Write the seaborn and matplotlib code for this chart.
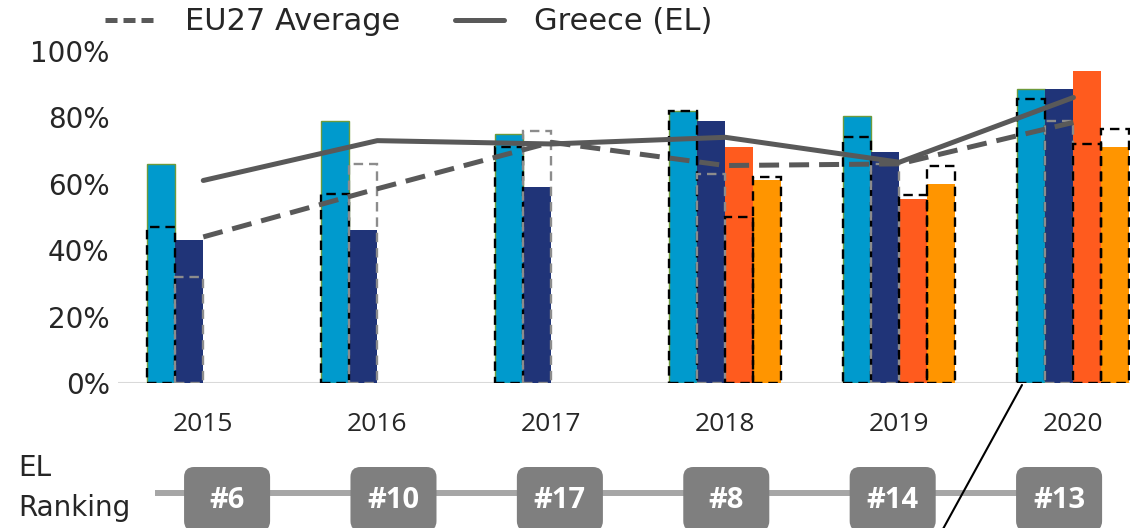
import numpy as np
import pandas as pd
import matplotlib
matplotlib.use("Agg")
import matplotlib.pyplot as plt
from matplotlib.lines import Line2D
from matplotlib.patches import FancyBboxPatch
import seaborn as sns

# data
years = ["2015", "2016", "2017", "2018", "2019", "2020"]
series = ["Indicator 1", "Indicator 2", "Indicator 3", "Indicator 4"]
nan = np.nan

el_1 = [66, 79, 75, 82, 80.5, 88.5]
el_2 = [43, 46, 59, 79, 69.5, 88.5]
el_3 = [nan, nan, nan, 71, 55.5, 94]
el_4 = [nan, nan, nan, 61, 60, 71]

eu_1 = [47, 57, 71, 82, 74, 85.5]
eu_2 = [32, 66, 76, 63, 66, 79]
eu_3 = [nan, nan, nan, 50, 56.5, 72]
eu_4 = [nan, nan, nan, 62, 65.5, 76.5]

eu27_avg = [44, 58.5, 72.5, 65.5, 66, 78.5]
greece_avg = [61, 73, 72, 74, 66.5, 86]

ranking = ["#6", "#10", "#17", "#8", "#14", "#13"]

bar_colors = ["#009ACD", "#203478", "#FF5B1E", "#FF9500"]
eu_edge_colors = ["black", "#8C8C8C", "black", "black"]
line_color = "#595959"

rows = []
for s, el, eu in zip(series, [el_1, el_2, el_3, el_4], [eu_1, eu_2, eu_3, eu_4]):
    for y, a, b in zip(years, el, eu):
        rows.append({"year": y, "series": s, "el": a, "eu": b})
df = pd.DataFrame(rows)

sns.set_style("white")
plt.rcParams["font.family"] = ["DejaVu Sans"]

W, H = 1130, 528
fig = plt.figure(figsize=(W / 100, H / 100), dpi=100)
ax = fig.add_axes([118 / W, 1 - 383 / H, (W - 118) / W, (383 - 51) / H])

sns.barplot(data=df, x="year", y="el", hue="series", hue_order=series,
            order=years, palette=bar_colors, width=0.644, errorbar=None,
            saturation=1, legend=False, linewidth=0, ax=ax)
# thin green edge on the first series
for p in ax.containers[0]:
    p.set_edgecolor("#6E9A3C")
    p.set_linewidth(1)

sns.barplot(data=df, x="year", y="eu", hue="series", hue_order=series,
            order=years, palette=eu_edge_colors, width=0.644, errorbar=None,
            saturation=1, fill=False, legend=False, linewidth=1.7,
            linestyle=(0, (4, 2.5)), ax=ax)

x = np.arange(len(years))
sns.lineplot(x=x, y=eu27_avg, color=line_color, lw=3.6, ax=ax)
ax.lines[-1].set_dashes((4, 2))
sns.lineplot(x=x, y=greece_avg, color=line_color, lw=3.6, ax=ax)

ax.axhline(0, color="#D9D9D9", lw=1.5, zorder=0)
ax.set_xlim(-0.49, 5.325)
ax.set_ylim(0, 100)
ax.set_yticks(range(0, 101, 20))
ax.set_yticklabels([f"{v}%" for v in range(0, 101, 20)], fontsize=20, color="#262626")
ax.set_xticks(x)
ax.set_xticklabels(years, fontsize=19, family="Open Sans", color="#262626")
ax.tick_params(axis="x", length=0, pad=21)
ax.tick_params(axis="y", length=0, pad=6)
ax.set_xlabel("")
ax.set_ylabel("")
sns.despine(ax=ax, left=True, bottom=True)

handles = [Line2D([], [], color=line_color, lw=3.6, dashes=(2.4, 1.2)),
           Line2D([], [], color=line_color, lw=3.6)]
fig.legend(handles, ["EU27 Average", "Greece (EL)"], loc="center",
           bbox_to_anchor=(409 / W, 1 - 22 / H), ncol=2, frameon=False,
           fontsize=22, handlelength=1.6, handletextpad=1.0, columnspacing=1.8)

# ranking strip
rax = fig.add_axes([0, 0, 1, 88 / H])
rax.set_xlim(-227 / 166.4, (W - 227) / 166.4)
rax.set_ylim(0, 88)
rax.axis("off")
rax.plot([-0.43, 5.0], [35, 35], color="#A6A6A6", lw=4.3, zorder=1, solid_capstyle="butt")
for i, r in enumerate(ranking):
    rax.add_patch(FancyBboxPatch((i - 0.258, -3), 0.517, 64,
                                 boxstyle="round,pad=0,rounding_size=0.06",
                                 mutation_aspect=166.4, fc="#7F7F7F", ec="none", zorder=2))
    rax.text(i, 27, r, color="white", fontsize=21, fontweight="bold",
             family="Open Sans", ha="center", va="center", zorder=3)

fig.text(18 / W, 1 - 488 / H, "EL\nRanking", fontsize=20, color="#262626",
         ha="left", va="center", linespacing=1.55)

fig.add_artist(Line2D([1022 / W, 943 / W], [1 - 385 / H, 1 - 529 / H],
                      color="black", lw=1.5))

fig.savefig("out.png", dpi=100)
